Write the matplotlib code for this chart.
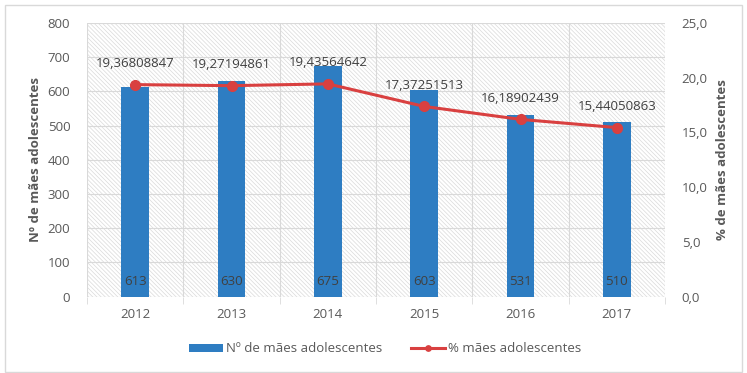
import matplotlib
matplotlib.use('Agg')
import matplotlib.pyplot as plt
from matplotlib.patches import Rectangle
import numpy as np

anos = ['2012', '2013', '2014', '2015', '2016', '2017']
n_maes = [613, 630, 675, 603, 531, 510]
pct_maes = [19.36808847, 19.27194861, 19.43564642, 17.37251513, 16.18902439, 15.44050863]
pct_labels = ['19,36808847', '19,27194861', '19,43564642', '17,37251513', '16,18902439', '15,44050863']

plt.rcParams['font.family'] = ['Open Sans', 'DejaVu Sans']
plt.rcParams['hatch.linewidth'] = 0.5
grey = '#595959'
blue = '#2E7DC2'
red = '#D94040'

fig = plt.figure(figsize=(7.47, 3.73), dpi=100)
fig.patches.append(Rectangle((5 / 747, 1 / 373), 737 / 747, 367 / 373, transform=fig.transFigure,
                             facecolor='none', edgecolor='#d9d9d9', linewidth=1))

ax = fig.add_axes([87 / 747, 1 - 296.5 / 373, 578 / 747, 273.5 / 373])
x = np.arange(len(anos))

# hatched plot area
ax.add_patch(Rectangle((0, 0), 1, 1, transform=ax.transAxes, facecolor='white',
                       edgecolor='#dadada', hatch='\\' * 8, linewidth=0, zorder=0))

ax.bar(x, n_maes, width=0.29, color=blue, zorder=3, label='Nº de mães adolescentes')
for xi, v in zip(x, n_maes):
    ax.annotate(str(v), (xi, 0), xytext=(0, 15), textcoords='offset pixels', ha='center', va='center',
                fontsize=9.5, color='#404040', zorder=4)

ax.set_xlim(-0.5, len(anos) - 0.5)
ax.set_ylim(0, 800)
ax.set_yticks(range(0, 801, 100))
ax.set_xticks(x)
ax.set_xticklabels(anos)
ax.set_xticks(np.arange(-0.5, len(anos), 1), minor=True)
ax.grid(axis='y', color='#d9d9d9', linewidth=0.8, zorder=1)
ax.grid(axis='x', which='minor', color='#d9d9d9', linewidth=0.8, zorder=1)
ax.set_axisbelow(True)
ax.tick_params(axis='x', which='major', length=0, colors=grey, labelsize=9.5, pad=8)
ax.tick_params(axis='x', which='minor', length=5, color='#d9d9d9')
ax.tick_params(axis='y', length=0, colors=grey, labelsize=9.5, pad=12)
for s in ax.spines.values():
    s.set_visible(False)
ax.set_ylabel('Nº de mães adolescentes', fontsize=9.5, fontweight='bold', color=grey, labelpad=4)

ax2 = ax.twinx()
ax2.plot(x, pct_maes, color=red, linewidth=2.2, marker='o', markersize=7, zorder=5,
         label='% mães adolescentes')
for xi, v, lab in zip(x, pct_maes, pct_labels):
    ax2.annotate(lab, (xi, v), xytext=(0, 21), textcoords='offset pixels', ha='center', va='center',
                 fontsize=9.5, color='#404040')
ax2.set_ylim(0, 25)
ax2.set_yticks(np.arange(0, 25.1, 5))
ax2.set_yticklabels([('%.1f' % t).replace('.', ',') for t in np.arange(0, 25.1, 5)])
ax2.tick_params(axis='y', length=0, colors=grey, labelsize=9.5, pad=12)
for s in ax2.spines.values():
    s.set_visible(False)
ax2.set_ylabel('% de mães adolescentes', fontsize=9.5, fontweight='bold', color=grey, labelpad=6)

h1, l1 = ax.get_legend_handles_labels()
h2, l2 = ax2.get_legend_handles_labels()
fig.legend(h1 + h2, l1 + l2, loc='center', bbox_to_anchor=(385 / 747, 1 - 349 / 373), ncol=2,
           frameon=False, fontsize=9.5, labelcolor=grey, handlelength=2.6, handleheight=0.5,
           columnspacing=2.2, handletextpad=0.2, markerscale=0.55)

fig.savefig('out.png', dpi=100)
